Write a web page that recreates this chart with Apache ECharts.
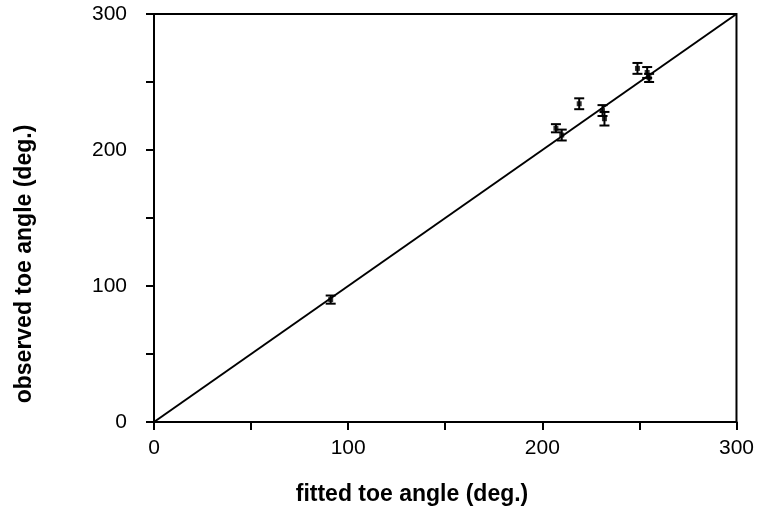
<!DOCTYPE html>
<html>
<head>
<meta charset="utf-8">
<script src="https://cdn.jsdelivr.net/npm/echarts@6/dist/echarts.min.js"></script>
<style>html,body{margin:0;padding:0;background:#fff}#c{width:757px;height:517px}</style>
</head>
<body>
<div id="c"></div>
<script>
const fitted   = [91, 207, 210, 219, 231, 232, 249, 254, 255];
const observed = [90, 216, 211, 234, 229, 223, 260, 257, 253];
const errors   = [3, 3, 4, 4, 4, 5, 4, 4, 3];
const identityLine = [[0, 0], [300, 300]];
const xTitle = 'fitted toe angle (deg.)';
const yTitle = 'observed toe angle (deg.)';

const pts = fitted.map((x, i) => [x, observed[i]]);
const errData = fitted.map((x, i) => [x, observed[i] - errors[i], observed[i] + errors[i]]);

const chart = echarts.init(document.getElementById('c'), null, {renderer: 'canvas'});
const FONT = 'Liberation Sans';
const axisCommon = {
  type: 'value', min: 0, max: 300, interval: 50,
  axisLine: {show: true, onZero: false, lineStyle: {color: '#000', width: 2}},
  axisTick: {show: true, inside: false, length: 8, lineStyle: {color: '#000', width: 2}},
  splitLine: {show: false}
};
chart.setOption({
  animation: false,
  backgroundColor: '#fff',
  grid: {left: 154, right: 19, top: 14, bottom: 95, show: true, borderColor: '#000', borderWidth: 2},
  xAxis: Object.assign({}, axisCommon, {
    axisLabel: {margin: 16, fontFamily: FONT, fontSize: 21, color: '#000',
      formatter: v => (v % 100 === 0 ? String(v) : '')}
  }),
  yAxis: Object.assign({}, axisCommon, {
    axisLabel: {margin: 27, fontFamily: FONT, fontSize: 21, color: '#000',
      formatter: v => (v % 100 === 0 ? String(v) : '')}
  }),
  graphic: [
    {type: 'text', x: 412, y: 495, style: {text: xTitle, fontFamily: FONT, fontWeight: 'bold',
      fontSize: 23, fill: '#000', align: 'center', verticalAlign: 'middle'}},
    {type: 'text', x: 25, y: 264, rotation: Math.PI / 2, style: {text: yTitle, fontFamily: FONT,
      fontWeight: 'bold', fontSize: 23, fill: '#000', align: 'center', verticalAlign: 'middle'}}
  ],
  series: [
    {
      type: 'line', data: identityLine, symbol: 'none',
      lineStyle: {color: '#000', width: 2}, silent: true
    },
    {
      type: 'custom', data: errData,
      renderItem: function (params, api) {
        const x = api.value(0);
        const lo = api.coord([x, api.value(1)]);
        const hi = api.coord([x, api.value(2)]);
        const cap = 5;
        const style = {stroke: '#000', lineWidth: 2};
        return {type: 'group', children: [
          {type: 'line', shape: {x1: lo[0], y1: lo[1], x2: hi[0], y2: hi[1]}, style: style},
          {type: 'line', shape: {x1: lo[0] - cap, y1: lo[1], x2: lo[0] + cap, y2: lo[1]}, style: style},
          {type: 'line', shape: {x1: hi[0] - cap, y1: hi[1], x2: hi[0] + cap, y2: hi[1]}, style: style}
        ]};
      },
      z: 3
    },
    {
      type: 'scatter', data: pts, symbol: 'rect', symbolSize: 5,
      itemStyle: {color: '#000'}, z: 4
    }
  ]
});
</script>
</body>
</html>
